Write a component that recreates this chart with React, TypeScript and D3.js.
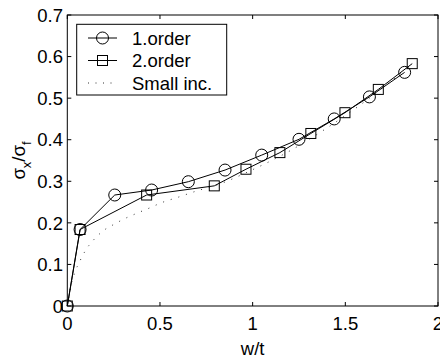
import React from "react";
import * as d3 from "d3";

const order1W = [0, 0.069, 0.256, 0.455, 0.653, 0.851, 1.049, 1.25, 1.44, 1.63, 1.82];
const order1V = [0, 0.184, 0.267, 0.279, 0.299, 0.327, 0.363, 0.401, 0.45, 0.503, 0.562];
const order2W = [0, 0.069, 0.428, 0.793, 0.964, 1.147, 1.314, 1.498, 1.678, 1.861];
const order2V = [0, 0.184, 0.267, 0.289, 0.329, 0.369, 0.415, 0.465, 0.521, 0.583];
const smallW = [0, 0.02, 0.04, 0.07, 0.1, 0.14, 0.2, 0.25, 0.3, 0.38, 0.45, 0.5, 0.6, 0.7, 0.8, 1.0, 1.2, 1.4, 1.6, 1.85];
const smallV = [0, 0.05, 0.08, 0.11, 0.135, 0.158, 0.183, 0.196, 0.208, 0.224, 0.237, 0.247, 0.262, 0.277, 0.29, 0.328, 0.373, 0.428, 0.49, 0.578];
const xTicks = [0, 0.5, 1, 1.5, 2];
const yTicks = [0, 0.1, 0.2, 0.3, 0.4, 0.5, 0.6, 0.7];
const legendLabels = ["1.order", "2.order", "Small inc."];

const W = 440, H = 359;
const L = 67.3, R = 438, T = 15, B = 306;
const FONT = "'Liberation Sans', Arial, sans-serif";
const FS = 18.5;

export default function App() {
  const x = d3.scaleLinear().domain([0, 2]).range([L, R]);
  const y = d3.scaleLinear().domain([0, 0.7]).range([B, T]);
  const line = d3.line<[number, number]>().x(d => x(d[0])).y(d => y(d[1]));
  const smooth = d3.line<[number, number]>().x(d => x(d[0])).y(d => y(d[1])).curve(d3.curveMonotoneX);
  const p1 = order1W.map((w, i) => [w, order1V[i]] as [number, number]);
  const p2 = order2W.map((w, i) => [w, order2V[i]] as [number, number]);
  const ps = smallW.map((w, i) => [w, smallV[i]] as [number, number]);
  const tk = 4;
  const lgX = 76.7, lgY = 24.3, lgW = 150, lgH = 70.7;
  const rowY = [38, 60.5, 83];
  return (
    <svg width={W} height={H} style={{ position: "absolute", left: 0, top: 0, background: "#fff" }} fontFamily={FONT}>
      <rect x={0} y={0} width={W} height={H} fill="#fff" />
      <path d={smooth(ps) || ""} fill="none" stroke="#333" strokeWidth={1} strokeDasharray="1 7" />
      <path d={line(p1) || ""} fill="none" stroke="#000" strokeWidth={1} />
      <path d={line(p2) || ""} fill="none" stroke="#000" strokeWidth={1} />
      {p1.map((d, i) => (
        <circle key={"c" + i} cx={x(d[0])} cy={y(d[1])} r={6} fill="none" stroke="#000" strokeWidth={1} />
      ))}
      {p2.map((d, i) => (
        <rect key={"s" + i} x={x(d[0]) - 5} y={y(d[1]) - 5} width={10} height={10} fill="none" stroke="#000" strokeWidth={1} />
      ))}
      <rect x={L} y={T} width={R - L} height={B - T} fill="none" stroke="#000" strokeWidth={1} />
      {xTicks.map((t, i) => (
        <g key={"xt" + i}>
          <line x1={x(t)} x2={x(t)} y1={B} y2={B - tk} stroke="#000" />
          <line x1={x(t)} x2={x(t)} y1={T} y2={T + tk} stroke="#000" />
          <text x={x(t)} y={330} textAnchor="middle" fontSize={FS}>{String(t)}</text>
        </g>
      ))}
      {yTicks.map((t, i) => (
        <g key={"yt" + i}>
          <line x1={L} x2={L + tk} y1={y(t)} y2={y(t)} stroke="#000" />
          <line x1={R} x2={R - tk} y1={y(t)} y2={y(t)} stroke="#000" />
          <text x={63} y={y(t)} dy="0.36em" textAnchor="end" fontSize={FS}>{String(t)}</text>
        </g>
      ))}
      <text x={x(1)} y={355} textAnchor="middle" fontSize={FS}>w/t</text>
      <text transform={`translate(25,${(T + B) / 2}) rotate(-90)`} textAnchor="middle" fontSize={FS}>
        σ<tspan fontSize={13} dy={6}>x</tspan><tspan dy={-6}>/σ</tspan><tspan fontSize={13} dy={6}>f</tspan>
      </text>
      <rect x={lgX} y={lgY} width={lgW} height={lgH} fill="#fff" stroke="#000" strokeWidth={1} />
      <line x1={88} x2={117} y1={rowY[0]} y2={rowY[0]} stroke="#000" />
      <circle cx={102.5} cy={rowY[0]} r={6} fill="none" stroke="#000" />
      <line x1={88} x2={117} y1={rowY[1]} y2={rowY[1]} stroke="#000" />
      <rect x={97.5} y={rowY[1] - 5} width={10} height={10} fill="none" stroke="#000" />
      <line x1={88} x2={117} y1={rowY[2]} y2={rowY[2]} stroke="#333" strokeDasharray="1 6.5" />
      {legendLabels.map((s, i) => (
        <text key={"lg" + i} x={132} y={rowY[i]} dy="0.36em" fontSize={FS}>{s}</text>
      ))}
    </svg>
  );
}
